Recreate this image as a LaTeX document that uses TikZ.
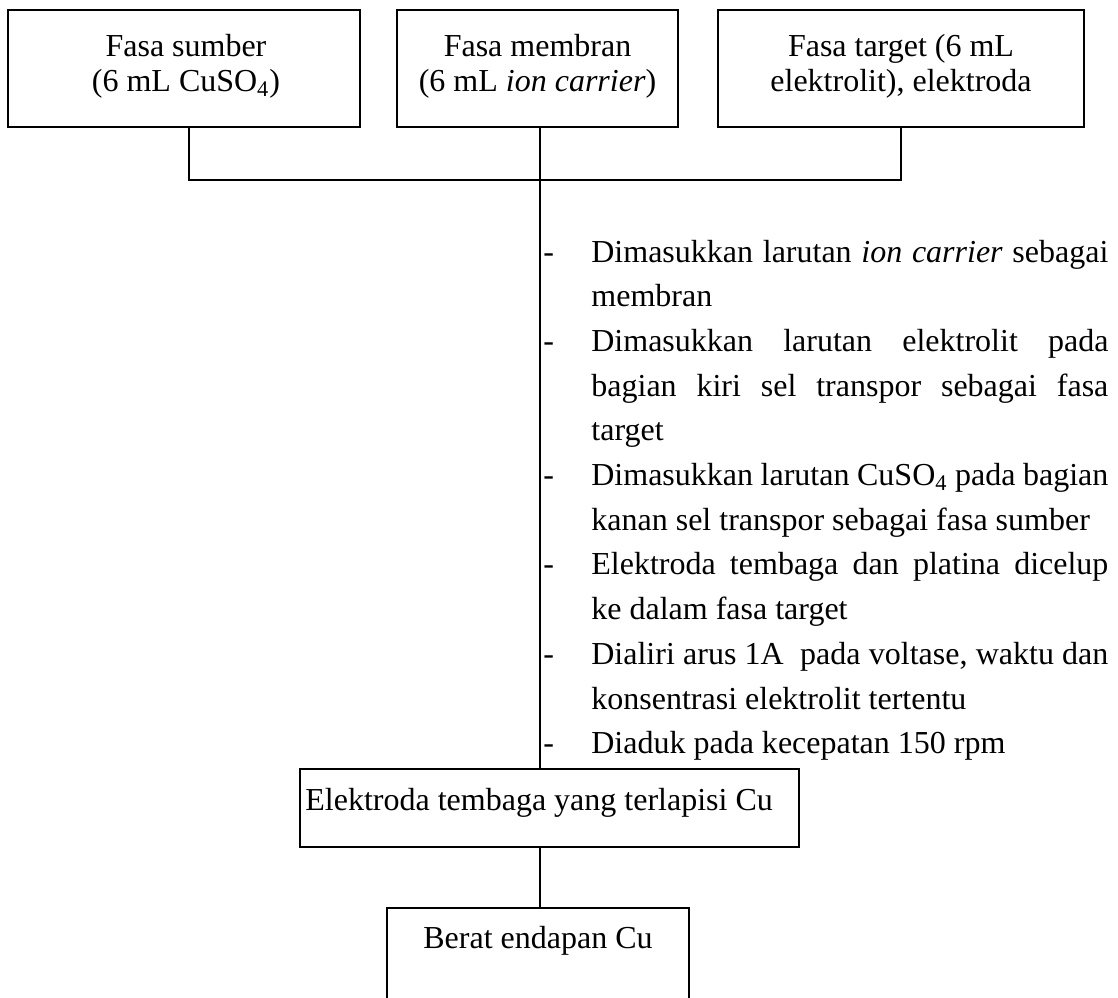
\documentclass[tikz,border=0pt]{standalone}
\usepackage{fontspec}
\setmainfont{Liberation Serif}
\newcommand\boxfont{\fontsize{16pt}{17.4pt}\selectfont}
\newcommand\stepfont{\fontsize{16pt}{22.35pt}\selectfont}
\newcommand\stepitem{\hangindent=24pt\hangafter=1\noindent\makebox[24pt][l]{-}}
\tikzset{
  box/.style={draw, line width=0.9pt, inner sep=0pt},
  conn/.style={line width=0.9pt},
  txt/.style={inner sep=0pt, font=\boxfont, align=center},
}
\begin{document}
\begin{tikzpicture}[x=0.5pt,y=-0.5pt]
\useasboundingbox (0,0) rectangle (1118,997);
\clip (0,0) rectangle (1118,997);
% boxes
\node[box, minimum width=176pt, minimum height=58.5pt] (b1) at (184,68.5) {};
\node[box, minimum width=140.5pt, minimum height=58.5pt] (b2) at (537.5,68.5) {};
\node[box, minimum width=183pt, minimum height=58.5pt] (b3) at (901,68.5) {};
\node[box, minimum width=249.5pt, minimum height=39pt] (e) at (549.5,808) {};
\node[box, minimum width=151pt, minimum height=56pt] (f) at (538,964) {};
% box texts
\node[txt] (t1) at (186,66) {Fasa sumber\\(6 mL CuSO\textsubscript{4})};
\node[txt] (t2) at (537.5,66) {Fasa membran\\(6 mL \textit{ion carrier})};
\node[txt] (t3) at (901,66) {Fasa target (6 mL\\elektrolit), elektroda};
\node[txt, anchor=base west] (te) at (305,810) {Elektroda tembaga yang terlapisi Cu};
\node[txt, anchor=base] (tf) at (538,948) {Berat endapan Cu};
% connectors
\coordinate (J) at (540,180);
\draw[conn] ([xshift=2.5pt]b1.south) |- (J);
\draw[conn] (b3.south) |- (J);
\draw[conn] (b2.south -| J) -- (J |- e.north);
\draw[conn] (e.south -| J) -- (J |- f.north);
% steps
\node[inner sep=0pt, anchor=base west, text width=282.5pt, align=justify, font=\stepfont] (steps) at (543,262) {%
\tolerance=10000\parindent=0pt\stepitem Dimasukkan larutan \textit{ion carrier} sebagai\linebreak membran\par
\stepitem Dimasukkan larutan elektrolit pada\linebreak bagian kiri sel transpor sebagai fasa\linebreak target\par
\stepitem Dimasukkan larutan CuSO\textsubscript{4} pada bagian\linebreak kanan sel transpor sebagai fasa sumber\par
\stepitem Elektroda tembaga dan platina dicelup\linebreak ke dalam fasa target\par
\stepitem Dialiri arus 1A\ \ pada voltase, waktu dan\linebreak konsentrasi elektrolit tertentu\par
\stepitem Diaduk pada kecepatan 150 rpm};
\end{tikzpicture}
\end{document}
